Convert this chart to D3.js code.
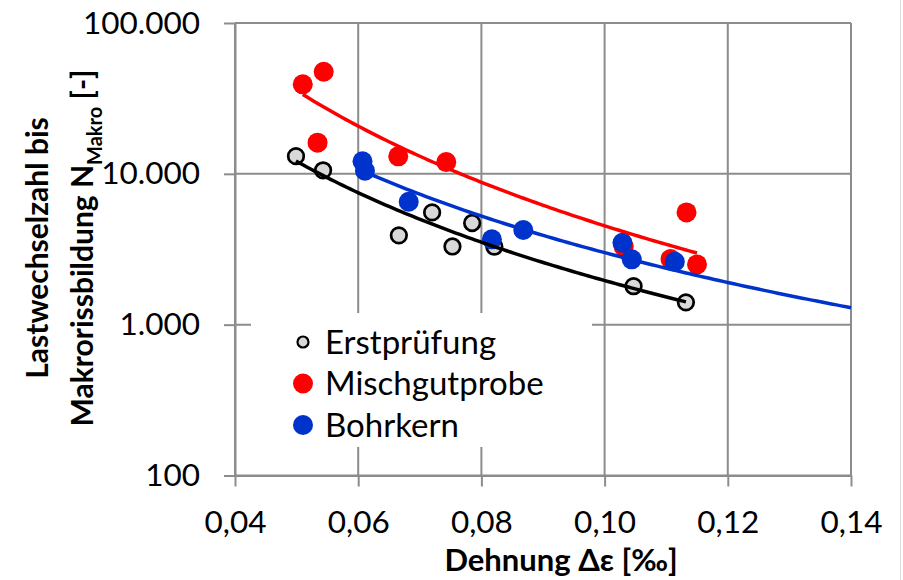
<!DOCTYPE html>
<html>
<head>
<meta charset="utf-8">
<script src="https://cdn.jsdelivr.net/npm/d3@7"></script>
<style>
  html, body { margin: 0; padding: 0; background: #fff; }
  svg { display: block; font-family: Lato, "Open Sans", sans-serif; }
</style>
</head>
<body>
<svg id="chart" width="903" height="580"></svg>
<script>
// Series names, as shown in the legend
const seriesNames = ["Erstprüfung", "Mischgutprobe", "Bohrkern"];

// Strain Δε [‰] per specimen
const erstX  = [0.0499, 0.0543, 0.0666, 0.0720, 0.0753, 0.0785, 0.0821, 0.1047, 0.1132];
const mischX = [0.0510, 0.0544, 0.0534, 0.0665, 0.0743, 0.1133, 0.1031, 0.1107, 0.1150];
const bohrX  = [0.0607, 0.0611, 0.0682, 0.0817, 0.0868, 0.1029, 0.1044, 0.1114];

// Load cycles until macro crack N_Makro
const erstN  = [13100, 10550, 3910, 5550, 3300, 4720, 3290, 1800, 1406];
const mischN = [39200, 47500, 16100, 13060, 11970, 5550, 3290, 2720, 2510];
const bohrN  = [12100, 10490, 6530, 3680, 4240, 3490, 2710, 2612];

// Power trend lines N = a · Δε^b, drawn from trendStart to trendEnd
const trendA     = [4.65, 4.76, 9.50];
const trendB     = [-2.625, -2.978, -2.50];
const trendStart = [0.0499, 0.0510, 0.0607];
const trendEnd   = [0.1132, 0.1150, 0.14];

// Axis ticks
const xTicks = [0.04, 0.06, 0.08, 0.10, 0.12, 0.14];
const yTicks = [100, 1000, 10000, 100000];

const colors = {
  fill:   ["#d9d9d9", "#ff0000", "#0033cc"],
  stroke: ["#000000", "none", "none"],
  line:   ["#000000", "#ff0000", "#0033cc"]
};

const series = seriesNames.map((name, i) => ({
  name,
  x: [erstX, mischX, bohrX][i],
  n: [erstN, mischN, bohrN][i],
  a: trendA[i], b: trendB[i], x0: trendStart[i], x1: trendEnd[i]
}));

const svg = d3.select("#chart");
const plot = { left: 235, right: 851, top: 23, bottom: 475.5 };

const x = d3.scaleLinear().domain([0.04, 0.14]).range([plot.left, plot.right]);
const y = d3.scaleLog().domain([100, 100000]).range([plot.bottom, plot.top]);

const de = d3.formatLocale({ decimal: ",", thousands: ".", grouping: [3], currency: ["", " €"] });
const fmtY = de.format(",.0f");
const fmtX = de.format(".2f");

// right border of the chart area
svg.append("line")
  .attr("x1", 900.5).attr("x2", 900.5).attr("y1", 0).attr("y2", 580)
  .attr("stroke", "#d9d9d9").attr("stroke-width", 1);

// grid
const grid = svg.append("g").attr("stroke", "#8c8c8c").attr("stroke-width", 2);
grid.selectAll("line.v").data(xTicks).join("line").attr("class", "v")
  .attr("x1", d => x(d)).attr("x2", d => x(d)).attr("y1", plot.top).attr("y2", plot.bottom);
grid.selectAll("line.h").data(yTicks).join("line").attr("class", "h")
  .attr("x1", plot.left).attr("x2", plot.right).attr("y1", d => y(d)).attr("y2", d => y(d));

// axes
const yAxis = svg.append("g").attr("transform", `translate(${plot.left},0)`)
  .call(d3.axisLeft(y).tickValues(yTicks).tickFormat(fmtY).tickSize(11).tickSizeOuter(0).tickPadding(24));
const xAxis = svg.append("g").attr("transform", `translate(0,${plot.bottom})`)
  .call(d3.axisBottom(x).tickValues(xTicks).tickFormat(fmtX).tickSize(11).tickSizeOuter(0).tickPadding(24));
[yAxis, xAxis].forEach(g => {
  g.select(".domain").attr("stroke", "#8c8c8c").attr("stroke-width", 2);
  g.selectAll(".tick line").attr("stroke", "#8c8c8c").attr("stroke-width", 2);
  g.selectAll(".tick text").attr("fill", "#000").style("font-size", "31.5px")
    .style("font-family", "Lato, 'Open Sans', sans-serif");
});

// markers
series.forEach((s, i) => {
  svg.append("g").selectAll("circle").data(s.x.map((v, k) => [v, s.n[k]])).join("circle")
    .attr("cx", d => x(d[0])).attr("cy", d => y(d[1]))
    .attr("r", i === 0 ? 7.8 : 10)
    .attr("fill", colors.fill[i])
    .attr("stroke", colors.stroke[i])
    .attr("stroke-width", i === 0 ? 2.7 : 0);
});

// trend lines
const line = d3.line().x(d => x(d[0])).y(d => y(d[1]));
series.forEach((s, i) => {
  const pts = d3.range(0, 101).map(k => {
    const v = s.x0 + (s.x1 - s.x0) * k / 100;
    return [v, s.a * Math.pow(v, s.b)];
  });
  svg.append("path").datum(pts).attr("d", line)
    .attr("fill", "none").attr("stroke", colors.line[i]).attr("stroke-width", 3.5)
    .attr("stroke-linejoin", "round");
});

// legend
const legend = svg.append("g");
legend.append("rect").attr("x", 251).attr("y", 313).attr("width", 341).attr("height", 134).attr("fill", "#fff");
const ly0 = 342, lstep = 41.5;
series.forEach((s, i) => {
  const g = legend.append("g").attr("transform", `translate(0,${ly0 + i * lstep})`);
  g.append("circle").attr("cx", 303).attr("cy", 0)
    .attr("r", i === 0 ? 5.5 : 10)
    .attr("fill", colors.fill[i]).attr("stroke", colors.stroke[i]).attr("stroke-width", i === 0 ? 2.2 : 0);
  g.append("text").attr("x", 325).attr("y", 0).attr("dy", "0.35em")
    .style("font-size", "33px").attr("fill", "#000").text(s.name);
});

// axis titles
svg.append("text").attr("x", 561).attr("y", 570.5).attr("text-anchor", "middle")
  .style("font-size", "31px").style("font-weight", "bold").attr("fill", "#000")
  .text("Dehnung Δε [‰]");

const yt = svg.append("g").attr("transform", "translate(0,248)");
yt.append("text").attr("transform", "translate(48,0) rotate(-90)").attr("text-anchor", "middle")
  .style("font-size", "30px").style("font-weight", "bold").attr("fill", "#000")
  .text("Lastwechselzahl bis");
const t2 = yt.append("text").attr("transform", "translate(93,0) rotate(-90)").attr("text-anchor", "middle")
  .style("font-size", "30px").style("font-weight", "bold").attr("fill", "#000");
t2.append("tspan").text("Makrorissbildung N");
t2.append("tspan").attr("dy", 9).style("font-size", "20px").text("Makro");
t2.append("tspan").attr("dy", -9).text(" [-]");
</script>
</body>
</html>
